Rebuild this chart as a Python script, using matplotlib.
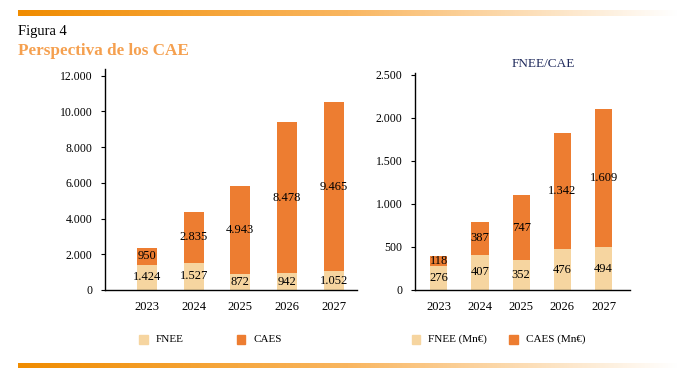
import numpy as np
import matplotlib
matplotlib.use("Agg")
import matplotlib.pyplot as plt
from matplotlib.colors import LinearSegmentedColormap

plt.rcParams['font.family'] = ['Liberation Serif', 'DejaVu Serif']

years = ['2023', '2024', '2025', '2026', '2027']
fnee = [1424, 1527, 872, 942, 1052]
caes = [950, 2835, 4943, 8478, 9465]
fnee_mn = [276, 407, 352, 476, 494]
caes_mn = [118, 387, 747, 1342, 1609]

left_ticks = [0, 2000, 4000, 6000, 8000, 10000, 12000]
right_ticks = [0, 500, 1000, 1500, 2000, 2500]

c_fnee = '#F6D5A0'
c_caes = '#ED7D31'

W, H = 678, 379
fig = plt.figure(figsize=(W / 100, H / 100), dpi=100)


def px_axes(x0, y0, x1, y1):
    # pixel box (top-left origin) -> figure axes
    return fig.add_axes([x0 / W, 1 - y1 / H, (x1 - x0) / W, (y1 - y0) / H])


def fmt(v):
    return f"{v:,}".replace(',', '.')


def stacked(ax, low, high, ticks, ylim, xlim, width):
    x = np.arange(len(years))
    ax.bar(x, low, width, color=c_fnee)
    ax.bar(x, high, width, bottom=low, color=c_caes)
    for i in range(len(years)):
        ax.text(x[i], low[i] / 2, fmt(low[i]), ha='center', va='center', fontsize=9)
        ax.text(x[i], low[i] + high[i] / 2, fmt(high[i]), ha='center', va='center', fontsize=9)
    ax.set_xlim(*xlim)
    ax.set_ylim(*ylim)
    ax.set_xticks(x)
    ax.set_xticklabels(years, fontsize=9)
    ax.set_yticks(ticks)
    ax.set_yticklabels([fmt(t) for t in ticks], fontsize=8.5)
    ax.tick_params(axis='x', length=0, pad=8)
    ax.tick_params(axis='y', length=3, width=0.8, pad=6)
    for s in ['top', 'right']:
        ax.spines[s].set_visible(False)
    for s in ['left', 'bottom']:
        ax.spines[s].set_linewidth(1)


ax1 = px_axes(105, 69, 357, 290)
stacked(ax1, fnee, caes, left_ticks, (0, 12380), (-0.9, 4.5), 0.43)

ax2 = px_axes(415, 73, 630, 290)
stacked(ax2, fnee_mn, caes_mn, right_ticks, (0, 2520), (-0.575, 4.64), 0.42)

fig.text(543 / W, 1 - 64 / H, 'FNEE/CAE', ha='center', va='center',
         fontsize=9.5, color='#1F2A5C')

# titles
fig.text(18 / W, 1 - 32 / H, 'Figura 4', ha='left', va='center', fontsize=10.5, color='black')
fig.text(18 / W, 1 - 51 / H, 'Perspectiva de los CAE', ha='left', va='center',
         fontsize=12.3, fontweight='bold', color='#F5A04F')

# gradient strips
grad = LinearSegmentedColormap.from_list('g', ['#F08C00', '#F9B660', '#FFFFFF'])
for y0, y1 in [(10, 16), (363, 368)]:
    gax = px_axes(18, y0, 678, y1)
    gax.imshow(np.linspace(0, 1, 256)[None, :], aspect='auto', cmap=grad)
    gax.axis('off')

# legends
def legend_item(x, label, color):
    fig.patches.append(plt.Rectangle((x / W, 1 - 344 / H), 8.5 / W, 9 / H,
                                     transform=fig.transFigure, color=color))
    fig.text((x + 17) / W, 1 - 339.5 / H, label, ha='left', va='center', fontsize=8)

legend_item(139, 'FNEE', c_fnee)
legend_item(236.5, 'CAES', c_caes)
legend_item(411.5, 'FNEE (Mn€)', c_fnee)
legend_item(509, 'CAES (Mn€)', c_caes)

fig.savefig('out.png', dpi=100)
